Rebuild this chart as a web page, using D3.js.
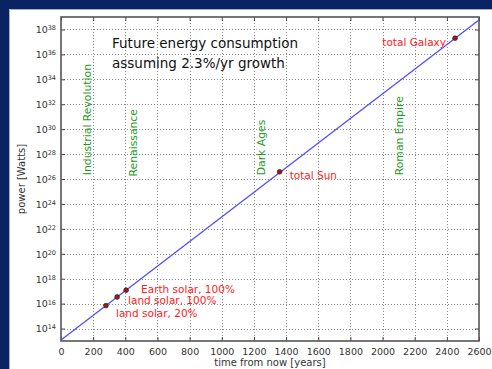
<!DOCTYPE html>
<html>
<head>
<meta charset="utf-8">
<script src="https://cdn.jsdelivr.net/npm/d3@7"></script>
<style>
  html, body { margin: 0; padding: 0; background: #fff; }
  svg { display: block; font-family: "DejaVu Sans", sans-serif; }
</style>
</head>
<body>
<svg id="chart" width="492" height="369"></svg>
<script>
// ---------------- data ----------------
const titleLines = ["Future energy consumption", "assuming 2.3%/yr growth"];
const xLabel = "time from now [years]";
const yLabel = "power [Watts]";

const xTicks = [0, 200, 400, 600, 800, 1000, 1200, 1400, 1600, 1800, 2000, 2200, 2400, 2600];
const yTickExponents = [14, 16, 18, 20, 22, 24, 26, 28, 30, 32, 34, 36, 38];

// growth line (straight on log axis): endpoints
const lineYears = [0, 2600];
const linePower = [1.2e13, 5.7e38];

// marked milestones
const markerNames = ["land solar, 20%", "land solar, 100%", "Earth solar, 100%", "total Sun", "total Galaxy"];
const markerYears = [280, 349, 405, 1360, 2451];
const markerPower = [7e15, 3.4e16, 1.2e17, 3.8e26, 2e37];

// historical eras (placed at "years ago")
const eraNames = ["Industrial Revolution", "Renaissance", "Dark Ages", "Roman Empire"];
const eraYears = [162, 448, 1244, 2102];
const eraPower = [2e26, 1.6e26, 2e26, 2e26];

// ---------------- layout ----------------
const W = 492, H = 369;
const plot = { left: 61, right: 479, top: 17, bottom: 341 };
// label offsets (pixels) relative to each marker, and anchors
const markerLabelLayout = [
  { dx: 10, dy: 8, anchor: "start" },
  { dx: 11, dy: 3, anchor: "start" },
  { dx: 15, dy: -1, anchor: "start" },
  { dx: 10, dy: 4, anchor: "start" },
  { dx: -9, dy: 4, anchor: "end" }
];

const svg = d3.select("#chart");

// background frame
svg.append("rect").attr("x", 0).attr("y", 0).attr("width", W).attr("height", H).attr("fill", "#fff");
svg.append("rect").attr("x", 0).attr("y", 0).attr("width", W).attr("height", 9).attr("fill", "#0c2363");
svg.append("rect").attr("x", 0).attr("y", 0).attr("width", 9).attr("height", H).attr("fill", "#0c2363");
svg.append("line").attr("x1", 9.5).attr("x2", W).attr("y1", 9.5).attr("y2", 9.5).attr("stroke", "#9fb0d6").attr("stroke-width", 1);
svg.append("line").attr("x1", 9.5).attr("x2", 9.5).attr("y1", 9.5).attr("y2", H).attr("stroke", "#9fb0d6").attr("stroke-width", 1);

const x = d3.scaleLinear().domain([0, 2600]).range([plot.left, plot.right]);
const y = d3.scaleLog().domain([1e13, 1e39]).range([plot.bottom, plot.top]);

const yTicks = yTickExponents.map(e => Math.pow(10, e));

// grid
const grid = svg.append("g").attr("class", "grid");
grid.selectAll("line.gx").data(xTicks.slice(1, -1)).join("line")
  .attr("x1", d => Math.round(x(d)) + 0.5).attr("x2", d => Math.round(x(d)) + 0.5)
  .attr("y1", plot.top).attr("y2", plot.bottom)
  .attr("stroke", "#8a8a8a").attr("stroke-width", 1).attr("stroke-dasharray", "1,2");
grid.selectAll("line.gy").data(yTicks).join("line")
  .attr("x1", plot.left).attr("x2", plot.right)
  .attr("y1", d => Math.round(y(d)) + 0.5).attr("y2", d => Math.round(y(d)) + 0.5)
  .attr("stroke", "#8a8a8a").attr("stroke-width", 1).attr("stroke-dasharray", "1,2");

// axes
const xAxis = d3.axisBottom(x).tickValues(xTicks).tickSize(-4).tickPadding(7).tickFormat(d3.format("d"));
const gx = svg.append("g").attr("transform", `translate(0,${plot.bottom})`).call(xAxis);
gx.select(".domain").remove();
gx.selectAll("line").attr("stroke", "#444");
gx.selectAll("text").attr("font-size", "9.5px").attr("fill", "#333").attr("font-family", "DejaVu Sans");

const xAxisTop = d3.axisTop(x).tickValues(xTicks).tickSize(-4).tickFormat("");
const gxt = svg.append("g").attr("transform", `translate(0,${plot.top})`).call(xAxisTop);
gxt.select(".domain").remove();
gxt.selectAll("line").attr("stroke", "#444");

const yAxis = d3.axisLeft(y).tickValues(yTicks).tickSize(-4).tickFormat("");
const gy = svg.append("g").attr("transform", `translate(${plot.left},0)`).call(yAxis);
gy.select(".domain").remove();
gy.selectAll("line").attr("stroke", "#444");
const yAxisR = d3.axisRight(y).tickValues(yTicks).tickSize(-4).tickFormat("");
const gyr = svg.append("g").attr("transform", `translate(${plot.right},0)`).call(yAxisR);
gyr.select(".domain").remove();
gyr.selectAll("line").attr("stroke", "#444");

// y tick labels with superscripts
gy.selectAll(".tick").each(function(d, i) {
  const t = d3.select(this).append("text")
    .attr("x", -5).attr("dy", "0.35em")
    .attr("text-anchor", "end").attr("fill", "#333")
    .attr("font-size", "9.5px").attr("font-family", "DejaVu Sans");
  t.append("tspan").text("10");
  t.append("tspan").attr("dy", "-0.45em").attr("font-size", "6.5px").text(String(yTickExponents[i]));
});

// frame
svg.append("rect").attr("x", plot.left).attr("y", plot.top)
  .attr("width", plot.right - plot.left).attr("height", plot.bottom - plot.top)
  .attr("fill", "none").attr("stroke", "#555").attr("stroke-width", 1.6);

// growth line
const lineData = lineYears.map((t, i) => [t, linePower[i]]);
svg.append("path").datum(lineData)
  .attr("d", d3.line().x(d => x(d[0])).y(d => y(d[1])))
  .attr("fill", "none").attr("stroke", "#4f4fff").attr("stroke-width", 1.3);

// markers
const markers = markerNames.map((n, i) => ({ name: n, t: markerYears[i], p: markerPower[i], lay: markerLabelLayout[i] }));
svg.selectAll("circle.m").data(markers).join("circle")
  .attr("cx", d => x(d.t)).attr("cy", d => y(d.p)).attr("r", 2.4)
  .attr("fill", "#9b1a1a").attr("stroke", "#3a0a0a").attr("stroke-width", 0.6);
svg.selectAll("text.m").data(markers).join("text")
  .attr("x", d => x(d.t) + d.lay.dx).attr("y", d => y(d.p) + d.lay.dy)
  .attr("dy", "0.35em").attr("text-anchor", d => d.lay.anchor)
  .attr("fill", "#ff1a1a").attr("font-size", "10.5px")
  .text(d => d.name);

// eras
const eras = eraNames.map((n, i) => ({ name: n, t: eraYears[i], p: eraPower[i] }));
svg.selectAll("text.era").data(eras).join("text")
  .attr("transform", d => `translate(${x(d.t)},${y(d.p)}) rotate(-90)`)
  .attr("dy", "0.35em").attr("text-anchor", "start")
  .attr("fill", "#1f9a1f").attr("font-size", "10.8px")
  .text(d => d.name);

// title
svg.selectAll("text.title").data(titleLines).join("text")
  .attr("x", 112).attr("y", (d, i) => 48 + i * 20)
  .attr("fill", "#111").attr("font-size", "13.5px")
  .text(d => d);

// axis labels
svg.append("text").attr("x", (plot.left + plot.right) / 2).attr("y", 366)
  .attr("text-anchor", "middle").attr("fill", "#333").attr("font-size", "10px")
  .text(xLabel);
svg.append("text").attr("transform", `translate(25,${(plot.top + plot.bottom) / 2}) rotate(-90)`)
  .attr("text-anchor", "middle").attr("fill", "#333").attr("font-size", "10px")
  .text(yLabel);
</script>
</body>
</html>
